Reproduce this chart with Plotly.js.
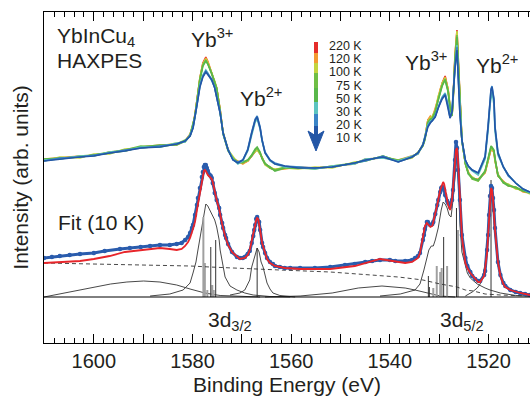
<!DOCTYPE html>
<html><head><meta charset="utf-8">
<script src="https://cdn.plot.ly/plotly-3.0.1.min.js"></script>
<style>html,body{margin:0;padding:0;background:#fff;overflow:hidden}#chart{width:530px;height:398px}</style>
</head><body><div id="chart"></div>
<script>
// ---------- top: temperature-dependent HAXPES spectra ----------
const energyTop = [1610.1,1606.9,1602.8,1600.0,1596.8,1593.7,1590.5,1586.6,1583.2,1581.5,1580.5,1579.9,1579.5,1579.1,1578.5,1577.9,1577.3,1576.9,1576.5,1576.1,1575.5,1575.1,1574.4,1573.8,1572.8,1571.8,1570.8,1569.8,1568.8,1568.0,1567.3,1566.9,1566.3,1565.9,1565.3,1564.3,1563.3,1561.3,1558.6,1555.2,1551.7,1547.1,1545.0,1541.4,1538.3,1535.5,1534.3,1533.3,1532.9,1532.3,1531.8,1531.4,1530.8,1530.2,1529.8,1529.4,1528.8,1528.2,1527.8,1527.4,1527.2,1526.8,1526.4,1526.2,1525.8,1525.4,1524.7,1524.1,1523.3,1522.1,1520.7,1520.1,1519.7,1519.5,1519.3,1518.9,1518.7,1518.1,1517.0,1516.0,1514.5,1513.0,1511.6];
const temperatures = ['220 K','120 K','100 K','75 K','50 K','30 K','20 K','10 K'];
const tempColors = ['#e52d2a','#f39a32','#c3d43f','#6fbe45','#58b74a','#5cc4c0','#3a84c6','#2356a6'];
const spec220K = [137,139,140,142,144,147,150,151,153,156,162,172,182,197,219,234,240,235,229,224,215,209,187,164,147,139,135,134,136,141,146,148,143,139,133,129,127,129,129,129,130,134,137,140,136,140,144,152,159,177,180,180,187,200,207,214,221,207,190,182,197,242,267,242,192,157,134,124,119,117,125,137,145,148,148,145,137,122,115,112,109,106,104];
const spec120K = [138,139,141,141,145,146,150,152,152,156,163,171,183,196,218,233,239,236,230,224,216,208,188,163,148,138,136,133,136,141,146,148,144,139,133,130,127,128,130,129,131,133,138,139,137,141,143,153,158,177,181,179,188,199,208,213,220,208,189,183,196,240,265,240,193,156,134,125,118,118,124,138,144,147,148,144,138,121,116,111,110,105,104];
const spec100K = [136,140,139,143,143,148,149,151,154,155,162,172,181,197,219,233,238,234,229,223,216,209,186,165,147,140,134,135,136,142,145,147,143,140,132,129,128,129,128,130,129,135,136,141,136,139,145,151,160,176,179,181,186,201,206,214,219,207,191,181,198,241,266,241,191,158,133,124,120,116,126,136,146,148,147,146,136,123,114,113,108,107,103];
const spec75K = [137,138,141,142,145,147,151,150,153,157,161,171,182,196,218,232,237,233,228,224,214,209,187,163,146,139,135,134,137,141,147,149,144,139,134,129,127,130,129,128,131,134,137,140,137,140,144,152,158,175,178,179,186,198,205,212,218,206,189,182,196,238,262,238,190,156,133,124,118,116,125,138,147,150,149,146,138,121,115,112,109,106,105];
const spec50K = [138,139,140,142,144,146,150,152,152,156,162,172,181,195,217,231,236,233,228,223,215,208,186,164,147,138,134,135,137,142,148,150,145,138,133,130,126,129,129,129,130,134,136,141,136,140,144,151,157,174,177,178,185,197,204,211,217,205,188,181,195,237,260,236,189,157,134,123,119,117,126,139,148,151,150,147,139,122,114,111,110,106,104];
const spec30K = [137,138,141,141,145,146,150,150,154,155,162,170,180,193,212,222,227,224,220,217,210,200,185,163,147,138,133,136,146,162,175,178,168,156,144,136,133,130,130,128,131,133,138,139,136,141,143,153,161,172,176,177,181,190,196,200,204,192,180,186,203,232,252,226,184,156,136,130,126,122,138,166,192,202,205,192,166,142,130,122,114,108,104];
const spec20K = [136,139,140,142,144,147,149,151,153,156,161,169,179,192,211,221,226,223,220,218,209,201,184,164,148,137,135,137,148,165,178,181,170,157,145,137,134,131,130,129,130,134,136,141,135,140,144,152,160,171,175,176,181,190,195,199,203,191,179,186,203,231,250,224,183,157,137,131,127,124,141,171,198,208,211,198,171,145,130,121,114,108,105];
const spec10K = [136,138,140,141,144,146,149,150,153,156,161,169,179,192,210,220,225,222,219,217,209,200,184,164,147,137,134,137,147,164,177,180,169,157,144,137,133,131,129,129,130,134,137,140,135,140,144,152,160,170,174,176,180,189,194,198,202,190,179,185,202,229,247,222,182,157,137,131,127,124,140,170,197,207,210,197,170,144,130,122,114,108,105];
const topSpectra = [spec220K,spec120K,spec100K,spec75K,spec50K,spec30K,spec20K,spec10K];

// ---------- bottom: 10 K data and fit ----------
const energyData = [1610.1,1608.5,1606.9,1604.9,1602.8,1600.0,1597.8,1594.7,1592.7,1590.5,1588.6,1586.6,1584.6,1583.2,1582.2,1581.5,1580.9,1580.5,1580.1,1579.9,1579.5,1579.1,1578.9,1578.5,1578.1,1577.9,1577.7,1577.5,1577.3,1577.1,1576.9,1576.5,1576.3,1576.1,1575.9,1575.5,1575.1,1574.6,1574.4,1574.0,1573.8,1573.4,1573.2,1572.8,1572.0,1571.0,1570.4,1569.8,1569.4,1568.8,1568.4,1568.0,1567.7,1567.5,1567.3,1567.1,1566.9,1566.5,1566.3,1565.9,1565.7,1565.3,1564.9,1564.3,1563.7,1563.3,1562.3,1561.3,1560.2,1558.2,1555.2,1552.1,1549.1,1547.1,1545.0,1543.6,1542.0,1540.0,1538.9,1536.9,1535.5,1534.9,1534.3,1533.9,1533.3,1533.1,1532.9,1532.5,1532.3,1531.8,1531.4,1531.2,1530.8,1530.4,1530.2,1529.8,1529.6,1529.4,1529.2,1529.0,1528.8,1528.4,1528.2,1527.8,1527.4,1527.2,1526.8,1526.6,1526.4,1526.2,1525.8,1525.4,1524.7,1524.3,1523.7,1523.3,1522.7,1522.1,1521.7,1520.9,1520.7,1520.3,1520.1,1519.9,1519.7,1519.5,1519.3,1519.1,1518.9,1518.7,1518.1,1517.6,1517.0,1516.6,1515.6,1514.5,1513.6,1512.6,1511.6];
const data10K = [39,40,41,42,43,44,46,48,49,50,51,52,52,53,54,57,60,64,69,72,82,92,99,109,120,125,130,132,132,129,126,122,121,119,114,104,97,89,82,74,69,62,59,53,45,40,39,39,40,43,46,54,61,67,72,78,80,75,67,54,50,44,39,35,33,31,30,29,29,29,29,30,32,33,35,36,37,37,36,36,37,39,41,44,57,62,68,75,75,72,73,75,83,92,97,105,109,110,109,107,102,96,94,90,97,107,137,155,149,127,97,62,39,31,25,21,18,16,16,22,26,47,62,82,101,111,109,99,87,69,35,22,14,11,7,5,4,3,2];
const energyFit = [1610.1,1606.9,1602.8,1600.0,1596.8,1593.7,1590.5,1588.6,1586.6,1584.6,1583.2,1582.2,1581.5,1580.9,1580.5,1580.1,1579.5,1579.1,1578.5,1578.1,1577.9,1577.7,1577.5,1577.3,1576.9,1576.5,1576.1,1575.9,1575.5,1575.1,1574.6,1574.4,1574.0,1573.4,1572.8,1572.0,1571.0,1570.4,1569.4,1568.8,1568.4,1568.0,1567.5,1567.3,1567.1,1566.9,1566.7,1566.5,1566.3,1565.9,1565.3,1564.9,1564.3,1563.3,1561.3,1558.2,1552.1,1547.1,1542.0,1538.9,1536.9,1535.5,1534.3,1533.9,1533.3,1532.9,1532.5,1531.8,1531.4,1530.8,1530.4,1529.8,1529.4,1529.2,1529.0,1528.6,1528.2,1527.8,1527.4,1527.2,1526.8,1526.6,1526.4,1526.2,1525.8,1525.4,1524.7,1524.3,1523.7,1522.7,1522.1,1521.7,1520.9,1520.3,1520.1,1519.9,1519.7,1519.5,1519.3,1519.1,1518.7,1518.1,1517.6,1517.0,1516.6,1515.6,1513.6,1511.6];
const fitTotal = [34,35,36,38,41,45,47,48,49,48,47,48,51,55,59,65,75,87,104,117,123,126,127,126,122,120,118,115,105,97,88,82,73,61,52,45,40,38,39,42,47,55,67,72,77,79,78,74,67,54,43,38,34,31,29,28,28,31,38,36,34,35,39,44,62,71,74,70,71,82,92,107,114,115,113,102,92,87,97,109,137,147,149,137,100,60,34,29,24,18,15,15,21,44,59,79,99,109,107,97,67,35,21,13,10,7,4,2];
const energyBg = [1610.1,1598.8,1588.6,1580.5,1576.5,1572.4,1562.3,1552.1,1538.3,1533.3,1529.8,1526.4,1524.7,1523.1,1520.7,1517.6,1511.6];
const background = [34,33,32,31,30,29,27,25,20,17,13,10,7,6,3,2,1];
const energySat32 = [1610.1,1606.9,1603.4,1600.0,1596.6,1593.3,1589.9,1586.6,1583.2,1580.5,1577.5,1574.4,1570.4,1566.3];
const sat32 = [0,3,7,10,13,15,16,15,12,8,4,1.5,0.5,0];
const energySat52 = [1565.3,1558.2,1551.7,1546.4,1541.6,1536.9,1534.9,1532.3,1529.8,1526.8];
const sat52 = [0,1,4,9,11,9,7,4,1,0];
const energyYb3_32 = [1588.6,1584.6,1581.9,1580.5,1579.9,1579.3,1578.9,1578.5,1578.1,1577.7,1577.3,1576.9,1576.5,1576.3,1575.9,1575.5,1575.1,1574.6,1574.4,1574.0,1573.4,1572.4,1571.0,1569.4,1567.7,1564.3,1560.2];
const yb3_32 = [1,3,7,14,24,35,47,59,70,85,93,91,87,85,82,77,70,57,47,35,20,11,7,4,2,0.5,0];
const energyYb2_32 = [1572.4,1570.4,1569.4,1568.8,1568.4,1568.0,1567.5,1567.3,1566.9,1566.5,1566.1,1565.7,1565.3,1564.9,1564.3,1563.7,1562.3,1559.2];
const yb2_32 = [2,4,7,13,17,30,40,44,49,45,35,30,21,14,8,4,1.5,0];
const energyYb3_52 = [1542.0,1537.9,1534.9,1533.9,1533.1,1532.5,1532.1,1531.6,1531.2,1530.8,1530.2,1529.6,1529.2,1528.8,1528.4,1528.0,1527.6,1527.2,1526.8,1526.6,1526.4,1526.2,1526.0,1525.8,1525.4,1524.7,1524.3,1523.7,1522.3,1520.7,1519.7,1517.6,1514.5,1511.6];
const yb3_52 = [1,3,7,13,27,40,47,51,51,57,69,87,95,93,89,82,80,97,122,137,142,127,97,72,45,30,24,19,13,9,7,4,1.5,1];
const energyYb2_52 = [1524.7,1523.3,1522.3,1521.7,1521.1,1520.7,1520.3,1520.1,1519.9,1519.7,1519.5,1519.3,1519.1,1518.9,1518.5,1518.1,1517.6,1517.0,1516.0,1514.5,1512.6,1511.6];
const yb2_52 = [1,5,9,13,22,33,52,67,82,97,104,100,89,75,52,32,22,14,8,4,2,1];
const stickDarkE = [1576.3,1575.3,1566.9,1532.2,1532.0,1529.1,1526.5,1519.5];
const stickDarkH = [50,57,49,21,10,60,89,117];
const stickGrayE = [1577.8,1577.5,1577.0,1576.0,1575.7,1531.2,1530.5,1529.8,1529.5,1528.4,1526.2];
const stickGrayH = [80,34,7,12,7,9,31,25,29,31,67];

const labelTicks = [1600,1580,1560,1540,1520];
const midTicks = [1590,1570,1550,1530];

// ---------- page geometry helpers (for text/arrow placement) ----------
const W = 530, H = 398, ML = 44, MR = 0, MT = 12, MB = 55;
const px = x => (x - ML) / (W - ML - MR);
const py = y => (H - MB - y) / (H - MB - MT);
const FONT = 'Arial, "Liberation Sans", Helvetica, sans-serif';
const XR = [1610.1, 1511.6];

function sticks(E, h) {
  const xs = [], ys = [];
  E.forEach((e, i) => { xs.push(e, e, null); ys.push(0, h[i], null); });
  return {xs, ys};
}

const traces = [];
topSpectra.forEach((s, i) => {
  traces.push({x: energyTop, y: s, type: 'scatter', mode: 'lines',
    line: {color: tempColors[i], width: 1.6}, name: temperatures[i], hoverinfo: 'skip'});
});
const comp = {type: 'scatter', mode: 'lines', line: {color: '#333333', width: 0.9}, hoverinfo: 'skip'};
traces.push(Object.assign({}, comp, {x: energySat32, y: sat32}));
traces.push(Object.assign({}, comp, {x: energySat52, y: sat52}));
traces.push(Object.assign({}, comp, {x: energyYb3_32, y: yb3_32}));
traces.push(Object.assign({}, comp, {x: energyYb2_32, y: yb2_32}));
traces.push(Object.assign({}, comp, {x: energyYb3_52, y: yb3_52}));
traces.push(Object.assign({}, comp, {x: energyYb2_52, y: yb2_52}));
const sg = sticks(stickGrayE, stickGrayH);
traces.push({x: sg.xs, y: sg.ys, type: 'scatter', mode: 'lines', line: {color: '#a0a0a0', width: 2}, hoverinfo: 'skip'});
const sd = sticks(stickDarkE, stickDarkH);
traces.push({x: sd.xs, y: sd.ys, type: 'scatter', mode: 'lines', line: {color: '#333333', width: 1}, hoverinfo: 'skip'});
traces.push({x: energyBg, y: background, type: 'scatter', mode: 'lines',
  line: {color: '#333333', width: 0.9, dash: '4px,3px'}, hoverinfo: 'skip'});
traces.push({x: energyData, y: data10K, type: 'scatter', mode: 'lines+markers',
  line: {color: '#2a5cad', width: 3}, marker: {color: '#2a5cad', size: 4.5}, hoverinfo: 'skip'});
traces.push({x: energyFit, y: fitTotal, type: 'scatter', mode: 'lines',
  line: {color: '#e8252a', width: 1.8}, hoverinfo: 'skip'});
// invisible trace anchoring the secondary (10 eV tick) axis
traces.push({x: XR, y: [0, 0], xaxis: 'x2', type: 'scatter', mode: 'lines',
  line: {width: 0, color: 'rgba(0,0,0,0)'}, hoverinfo: 'skip'});

const ann = (text, x, y, xanchor, size) => ({text, x: px(x), y: py(y), xref: 'paper', yref: 'paper',
  xanchor: xanchor || 'center', yanchor: 'middle', showarrow: false, borderpad: 0,
  font: {family: FONT, size: size || 21, color: '#231f20'}});

const annotations = [
  ann('YbInCu<sub>4</sub>', 56, 37, 'left'),
  ann('HAXPES', 56, 61, 'left'),
  ann('Yb<sup>3+</sup>', 212, 38),
  ann('Yb<sup>2+</sup>', 261, 97),
  ann('Yb<sup>3+</sup>', 426, 61),
  ann('Yb<sup>2+</sup>', 497, 64),
  ann('Fit (10 K)', 57, 222, 'left'),
  ann('3d<sub>3/2</sub>', 230, 321),
  ann('3d<sub>5/2</sub>', 462, 321),
];
const legendY = [46, 59, 72, 85.5, 98.5, 111.5, 125, 138];
temperatures.forEach((t, i) => {
  annotations.push({text: t, x: px(363), y: py(legendY[i]), xref: 'paper', yref: 'paper',
    xanchor: 'right', yanchor: 'middle', showarrow: false, borderpad: 0,
    font: {family: FONT, size: 12.5, color: '#231f20'}});
});

// colour bar arrow
const barSeg = [[42, 53], [53, 63], [63, 73], [73, 88], [88, 102], [102, 114], [114, 126], [126, 136]];
const shapes = [];
barSeg.forEach((s, i) => {
  shapes.push({type: 'line', xref: 'paper', yref: 'paper', x0: px(316), x1: px(316), y0: py(s[0]), y1: py(s[1]),
    line: {color: tempColors[i], width: 4}});
});
shapes.push({type: 'path', xref: 'paper', yref: 'paper',
  path: `M${px(308)},${py(131)} L${px(316)},${py(136)} L${px(324)},${py(131)} L${px(316)},${py(151)} Z`,
  fillcolor: '#2356a6', line: {color: '#2356a6', width: 1}});
// zero baseline of fit components
shapes.push({type: 'line', xref: 'paper', yref: 'y', x0: 0, x1: 1, y0: 0, y1: 0, line: {color: '#000', width: 1}});

const layout = {
  width: W, height: H,
  margin: {l: ML, r: MR, t: MT, b: MB, pad: 0},
  paper_bgcolor: '#fff', plot_bgcolor: '#fff',
  showlegend: false,
  font: {family: FONT, color: '#231f20'},
  xaxis: {
    range: XR, showgrid: false, zeroline: false,
    showline: true, linecolor: '#000', linewidth: 1, mirror: 'ticks',
    ticks: 'inside', ticklen: 9, tickcolor: '#000', tickwidth: 1,
    tickvals: labelTicks,
    minor: {dtick: 2, ticks: 'inside', ticklen: 5, tickcolor: '#000', tickwidth: 1, showgrid: false},
    tickfont: {family: FONT, size: 20, color: '#231f20'},
    title: {text: 'Binding Energy (eV)', font: {family: FONT, size: 21, color: '#231f20'}, standoff: 6},
    automargin: false
  },
  xaxis2: {
    overlaying: 'x', matches: 'x', range: XR, showgrid: false, zeroline: false,
    showline: false, mirror: 'ticks', ticks: 'inside', ticklen: 9, tickcolor: '#000', tickwidth: 1,
    tickvals: midTicks, showticklabels: false, anchor: 'y', side: 'bottom', automargin: false
  },
  yaxis: {
    range: [-46, 285], showgrid: false, zeroline: false,
    showline: true, linecolor: '#000', linewidth: 1, mirror: false,
    ticks: '', showticklabels: false,
    title: {text: 'Intensity (arb. units)', font: {family: FONT, size: 21, color: '#231f20'}, standoff: 8},
    automargin: false
  },
  annotations, shapes
};
Plotly.newPlot('chart', traces, layout, {displayModeBar: false, staticPlot: true});
</script>
</body></html>
